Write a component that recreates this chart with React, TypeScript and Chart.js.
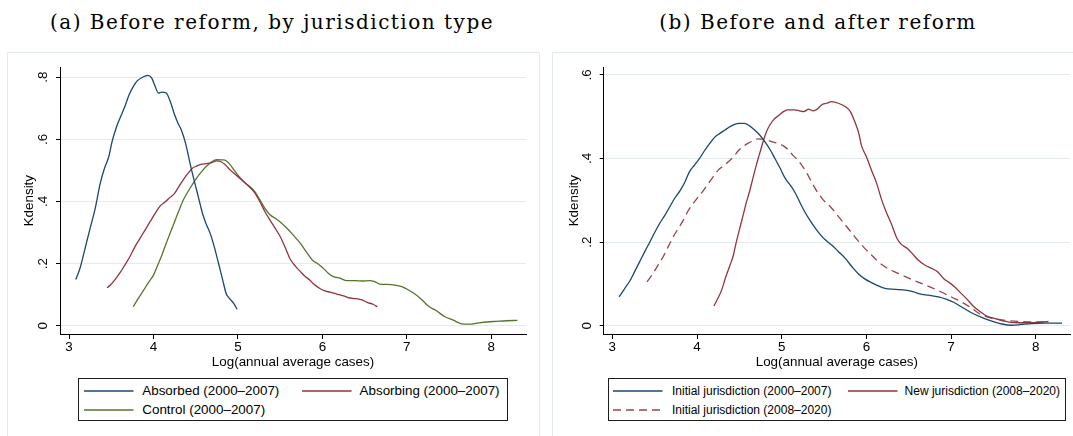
import React, { useEffect, useRef } from "react";
import { Chart, registerables } from "chart.js";

Chart.register(...registerables);

// ---------- data ----------
const xTickValues = [3, 4, 5, 6, 7, 8];
const yTickValuesA = [0, 0.2, 0.4, 0.6, 0.8];
const yTickValuesB = [0, 0.2, 0.4, 0.6];

// Panel (a): before reform, by jurisdiction type
const absorbedX = [3.08, 3.13, 3.19, 3.25, 3.31, 3.37, 3.42, 3.47, 3.51, 3.57, 3.62, 3.66, 3.71, 3.76, 3.81, 3.87, 3.93, 3.98, 4.02, 4.06, 4.10, 4.15, 4.20, 4.25, 4.29, 4.33, 4.38, 4.42, 4.46, 4.50, 4.54, 4.58, 4.62, 4.67, 4.72, 4.77, 4.82, 4.86, 4.89, 4.95, 4.99];
const absorbedY = [0.149, 0.185, 0.249, 0.314, 0.378, 0.459, 0.507, 0.544, 0.593, 0.646, 0.679, 0.705, 0.743, 0.770, 0.789, 0.800, 0.806, 0.797, 0.770, 0.749, 0.752, 0.749, 0.721, 0.679, 0.652, 0.630, 0.587, 0.539, 0.491, 0.448, 0.405, 0.362, 0.330, 0.298, 0.254, 0.201, 0.147, 0.104, 0.091, 0.072, 0.053];

const absorbingX = [3.45, 3.49, 3.54, 3.60, 3.66, 3.72, 3.78, 3.84, 3.90, 3.96, 4.02, 4.08, 4.14, 4.20, 4.25, 4.30, 4.35, 4.41, 4.46, 4.51, 4.57, 4.63, 4.69, 4.75, 4.80, 4.85, 4.91, 4.96, 5.02, 5.08, 5.14, 5.20, 5.26, 5.32, 5.38, 5.44, 5.50, 5.56, 5.62, 5.68, 5.74, 5.79, 5.85, 5.91, 5.97, 6.03, 6.09, 6.17, 6.25, 6.31, 6.39, 6.47, 6.53, 6.60, 6.65];
const absorbingY = [0.122, 0.131, 0.147, 0.169, 0.195, 0.222, 0.254, 0.281, 0.308, 0.335, 0.362, 0.386, 0.399, 0.414, 0.426, 0.448, 0.469, 0.491, 0.507, 0.514, 0.520, 0.522, 0.525, 0.531, 0.528, 0.518, 0.501, 0.489, 0.475, 0.461, 0.446, 0.428, 0.399, 0.367, 0.340, 0.314, 0.287, 0.252, 0.214, 0.192, 0.174, 0.160, 0.147, 0.131, 0.120, 0.112, 0.108, 0.102, 0.096, 0.090, 0.087, 0.083, 0.075, 0.069, 0.061];

const controlX = [3.76, 3.82, 3.88, 3.94, 4.00, 4.05, 4.10, 4.15, 4.20, 4.25, 4.30, 4.35, 4.40, 4.45, 4.51, 4.57, 4.63, 4.69, 4.75, 4.81, 4.86, 4.91, 4.96, 5.02, 5.08, 5.14, 5.20, 5.26, 5.32, 5.38, 5.44, 5.50, 5.58, 5.66, 5.74, 5.81, 5.89, 5.95, 6.01, 6.07, 6.13, 6.21, 6.29, 6.39, 6.48, 6.56, 6.62, 6.68, 6.76, 6.86, 6.94, 7.02, 7.10, 7.18, 7.25, 7.35, 7.45, 7.55, 7.65, 7.75, 7.83, 7.95, 8.06, 8.18, 8.31];
const controlY = [0.061, 0.088, 0.113, 0.139, 0.163, 0.195, 0.228, 0.265, 0.300, 0.335, 0.370, 0.403, 0.428, 0.450, 0.475, 0.496, 0.514, 0.528, 0.535, 0.534, 0.531, 0.518, 0.499, 0.478, 0.461, 0.448, 0.432, 0.405, 0.378, 0.357, 0.346, 0.334, 0.314, 0.290, 0.265, 0.238, 0.209, 0.199, 0.185, 0.169, 0.158, 0.153, 0.145, 0.145, 0.144, 0.145, 0.142, 0.134, 0.133, 0.131, 0.126, 0.115, 0.101, 0.083, 0.064, 0.048, 0.029, 0.018, 0.006, 0.005, 0.008, 0.012, 0.014, 0.016, 0.017];

// Panel (b): before and after reform
const initialEarlyX = [3.08, 3.14, 3.21, 3.26, 3.32, 3.38, 3.44, 3.50, 3.56, 3.62, 3.68, 3.74, 3.80, 3.86, 3.91, 3.97, 4.03, 4.09, 4.15, 4.21, 4.27, 4.33, 4.39, 4.45, 4.50, 4.56, 4.62, 4.68, 4.74, 4.80, 4.86, 4.92, 4.98, 5.04, 5.09, 5.15, 5.21, 5.27, 5.33, 5.39, 5.45, 5.51, 5.59, 5.67, 5.75, 5.83, 5.91, 5.98, 6.06, 6.14, 6.22, 6.34, 6.46, 6.56, 6.63, 6.73, 6.85, 6.95, 7.03, 7.13, 7.24, 7.36, 7.48, 7.60, 7.72, 7.83, 7.95, 8.11, 8.31];
const initialEarlyY = [0.069, 0.087, 0.108, 0.128, 0.152, 0.176, 0.199, 0.223, 0.245, 0.264, 0.285, 0.306, 0.323, 0.345, 0.368, 0.384, 0.400, 0.419, 0.436, 0.451, 0.460, 0.468, 0.476, 0.482, 0.484, 0.484, 0.478, 0.468, 0.456, 0.440, 0.422, 0.400, 0.377, 0.353, 0.339, 0.321, 0.297, 0.273, 0.253, 0.235, 0.219, 0.206, 0.193, 0.177, 0.161, 0.141, 0.123, 0.112, 0.103, 0.095, 0.089, 0.087, 0.085, 0.081, 0.076, 0.073, 0.069, 0.063, 0.056, 0.044, 0.031, 0.020, 0.011, 0.004, 0.001, 0.003, 0.005, 0.006, 0.006];

const newLateX = [4.20, 4.24, 4.29, 4.34, 4.39, 4.43, 4.46, 4.50, 4.54, 4.58, 4.62, 4.66, 4.70, 4.74, 4.78, 4.82, 4.86, 4.91, 4.96, 5.02, 5.07, 5.15, 5.21, 5.26, 5.32, 5.37, 5.42, 5.47, 5.53, 5.59, 5.67, 5.75, 5.81, 5.87, 5.91, 5.94, 6.00, 6.06, 6.12, 6.18, 6.24, 6.30, 6.36, 6.41, 6.48, 6.54, 6.61, 6.69, 6.77, 6.84, 6.91, 6.98, 7.04, 7.11, 7.19, 7.26, 7.34, 7.42, 7.50, 7.60, 7.70, 7.80, 7.91, 8.03, 8.15];
const newLateY = [0.047, 0.063, 0.085, 0.117, 0.145, 0.169, 0.197, 0.229, 0.261, 0.293, 0.321, 0.353, 0.384, 0.412, 0.440, 0.464, 0.480, 0.494, 0.502, 0.512, 0.516, 0.516, 0.514, 0.512, 0.518, 0.514, 0.518, 0.528, 0.532, 0.536, 0.532, 0.524, 0.512, 0.484, 0.460, 0.432, 0.404, 0.372, 0.341, 0.301, 0.269, 0.241, 0.209, 0.195, 0.185, 0.173, 0.157, 0.145, 0.137, 0.129, 0.113, 0.103, 0.093, 0.079, 0.063, 0.047, 0.034, 0.023, 0.018, 0.012, 0.008, 0.007, 0.007, 0.008, 0.010];

const initialLateX = [3.41, 3.48, 3.54, 3.60, 3.66, 3.72, 3.78, 3.84, 3.89, 3.95, 4.01, 4.07, 4.13, 4.19, 4.25, 4.31, 4.37, 4.43, 4.49, 4.54, 4.60, 4.66, 4.72, 4.78, 4.84, 4.90, 4.96, 5.02, 5.08, 5.13, 5.19, 5.25, 5.31, 5.37, 5.43, 5.49, 5.59, 5.67, 5.75, 5.83, 5.91, 5.98, 6.06, 6.14, 6.22, 6.30, 6.42, 6.53, 6.65, 6.77, 6.89, 7.01, 7.13, 7.24, 7.34, 7.44, 7.56, 7.68, 7.80, 7.91, 8.03, 8.15];
const initialLateY = [0.105, 0.125, 0.145, 0.165, 0.189, 0.213, 0.233, 0.253, 0.273, 0.291, 0.307, 0.322, 0.339, 0.356, 0.372, 0.382, 0.392, 0.404, 0.419, 0.428, 0.436, 0.442, 0.447, 0.446, 0.443, 0.439, 0.436, 0.430, 0.420, 0.408, 0.396, 0.380, 0.360, 0.337, 0.317, 0.301, 0.281, 0.261, 0.241, 0.221, 0.201, 0.185, 0.169, 0.153, 0.141, 0.132, 0.121, 0.111, 0.101, 0.091, 0.080, 0.068, 0.056, 0.042, 0.028, 0.020, 0.015, 0.012, 0.010, 0.009, 0.009, 0.010];

const titleA = "(a) Before reform, by jurisdiction type";
const titleB = "(b) Before and after reform";
const xTitle = "Log(annual average cases)";
const yTitle = "Kdensity";

// ---------- styles ----------
const SANS = "'Liberation Sans', Arial, Helvetica, sans-serif";
const SERIF = "'DejaVu Serif', serif";
const NAVY = "#1a476f";
const MAROON = "#90353b";
const GREEN = "#55752f";
const DASHRED = "#99434a";
const GRID = "#e3ebee";
const FRAME = "#e2eaed";
const DASH = [8, 5];

type Series = { label: string; xs: number[]; ys: number[]; color: string; dash?: number[] };

const seriesA: Series[] = [
  { label: "Absorbed (2000–2007)", xs: absorbedX, ys: absorbedY, color: NAVY },
  { label: "Absorbing (2000–2007)", xs: absorbingX, ys: absorbingY, color: MAROON },
  { label: "Control (2000–2007)", xs: controlX, ys: controlY, color: GREEN },
];
const seriesB: Series[] = [
  { label: "Initial jurisdiction (2000–2007)", xs: initialEarlyX, ys: initialEarlyY, color: NAVY },
  { label: "New jurisdiction (2008–2020)", xs: newLateX, ys: newLateY, color: MAROON },
  { label: "Initial jurisdiction (2008–2020)", xs: initialLateX, ys: initialLateY, color: DASHRED, dash: DASH },
];

function fmtY(v: number): string {
  if (Math.abs(v) < 1e-9) return "0";
  return String(+v.toFixed(1)).replace(/^0/, "");
}

type PanelOpts = {
  xMin: number; xMax: number; yMin: number; yMax: number;
  yTicks: number[];
  padTop: number; padRight: number; padBottom: number;
  yAxisWidth: number; xAxisHeight: number; yTitlePad: number;
};

function makeConfig(series: Series[], o: PanelOpts): any {
  const tickFont = { family: SANS, size: 13.4 };
  return {
    type: "scatter",
    data: {
      datasets: series.map((s) => ({
        label: s.label,
        data: s.xs.map((x, i) => ({ x, y: s.ys[i] })),
        showLine: true,
        borderColor: s.color,
        backgroundColor: s.color,
        borderWidth: 1.3,
        borderDash: s.dash || [],
        pointRadius: 0,
        pointHoverRadius: 0,
        cubicInterpolationMode: "monotone",
        fill: false,
      })),
    },
    options: {
      responsive: false,
      animation: false,
      devicePixelRatio: 1,
      events: [],
      layout: { padding: { left: 0, top: o.padTop, right: o.padRight, bottom: o.padBottom } },
      plugins: { legend: { display: false }, tooltip: { enabled: false }, title: { display: false } },
      scales: {
        x: {
          type: "linear",
          position: "bottom",
          min: o.xMin,
          max: o.xMax,
          afterBuildTicks: (s: any) => { s.ticks = xTickValues.map((v) => ({ value: v })); },
          afterFit: (s: any) => { s.height = o.xAxisHeight; },
          ticks: { color: "#000", font: tickFont, padding: 0, maxRotation: 0, autoSkip: false, callback: (v: any) => String(v) },
          grid: { drawOnChartArea: false, drawTicks: true, tickLength: 5, tickColor: "#000", tickWidth: 1 },
          border: { display: true, color: "#000", width: 1 },
          title: { display: true, text: xTitle, color: "#000", font: tickFont, padding: { top: 0, bottom: 0 } },
        },
        y: {
          type: "linear",
          position: "left",
          min: o.yMin,
          max: o.yMax,
          afterBuildTicks: (s: any) => { s.ticks = o.yTicks.map((v) => ({ value: v })); },
          afterFit: (s: any) => { s.width = o.yAxisWidth; },
          ticks: { color: "#000", font: tickFont, padding: 7, minRotation: 90, maxRotation: 90, crossAlign: "center", autoSkip: false, callback: (v: any) => fmtY(Number(v)) },
          grid: { color: GRID, lineWidth: 1, drawTicks: true, tickLength: 4, tickColor: "#000", tickWidth: 1 },
          border: { display: true, color: "#000", width: 1 },
          title: { display: true, text: yTitle, color: "#000", font: tickFont, padding: { top: o.yTitlePad, bottom: 0 } },
        },
      },
    },
  };
}

function ChartCanvas({ series, opts, left, top, width, height }: { series: Series[]; opts: PanelOpts; left: number; top: number; width: number; height: number }) {
  const ref = useRef<HTMLCanvasElement>(null);
  useEffect(() => {
    const chart = new Chart(ref.current as HTMLCanvasElement, makeConfig(series, opts));
    return () => chart.destroy();
  }, []);
  return (
    <canvas
      ref={ref}
      width={width}
      height={height}
      style={{ position: "absolute", left, top, width, height }}
    />
  );
}

type LegendEntry = { label: string; color: string; dash?: number[]; lineX: number; textX: number; rowY: number };

function LegendLayer({ box, entries, fontSize }: { box: { left: number; top: number; width: number; height: number }; entries: LegendEntry[]; fontSize: number }) {
  return (
    <>
      <div
        style={{
          position: "absolute", left: box.left, top: box.top, width: box.width, height: box.height,
          border: "1px solid #1c1c1c", boxSizing: "border-box", background: "#fff",
        }}
      />
      {entries.map((e, i) => (
        <React.Fragment key={i}>
          <svg style={{ position: "absolute", left: e.lineX, top: e.rowY - 3 }} width={50} height={6}>
            <line x1={0} y1={3} x2={49.5} y2={3} stroke={e.color} strokeWidth={1.3} strokeDasharray={e.dash ? e.dash.join(" ") : undefined} />
          </svg>
          <div
            style={{
              position: "absolute", left: e.textX, top: e.rowY - 8, height: 16, lineHeight: "16px",
              fontFamily: SANS, fontSize, color: "#000", whiteSpace: "nowrap",
            }}
          >
            {e.label}
          </div>
        </React.Fragment>
      ))}
    </>
  );
}

const optsA: PanelOpts = {
  xMin: 2.893, xMax: 8.411, yMin: -0.0267, yMax: 0.832, yTicks: yTickValuesA,
  padTop: 27.3, padRight: 14, padBottom: 65.3, yAxisWidth: 60, xAxisHeight: 36.7, yTitlePad: 21.3,
};
const optsB: PanelOpts = {
  xMin: 2.898, xMax: 8.404, yMin: -0.0199, yMax: 0.618, yTicks: yTickValuesB,
  padTop: 27.3, padRight: 3, padBottom: 65.3, yAxisWidth: 59.7, xAxisHeight: 36.7, yTitlePad: 22,
};

const titleStyle: React.CSSProperties = {
  position: "absolute", top: 12.4, height: 20, lineHeight: "20px", textAlign: "center",
  fontFamily: SERIF, fontSize: 20, letterSpacing: "1.5px", color: "#000", whiteSpace: "nowrap",
};

export default function App() {
  return (
    <div style={{ position: "absolute", left: 0, top: 0, width: 1073, height: 436, overflow: "hidden", background: "#fff" }}>
      <div style={{ ...titleStyle, left: 0, width: 544 }}>{titleA}</div>
      <div style={{ ...titleStyle, left: 562, width: 512 }}>{titleB}</div>

      <div style={{ position: "absolute", left: 7, top: 52, width: 533, height: 420, border: `1px solid ${FRAME}`, boxSizing: "border-box" }} />
      <div style={{ position: "absolute", left: 552, top: 52, width: 600, height: 420, border: `1px solid ${FRAME}`, boxSizing: "border-box" }} />

      <ChartCanvas series={seriesA} opts={optsA} left={0} top={40} width={540} height={396} />
      <ChartCanvas series={seriesB} opts={optsB} left={544} top={40} width={529} height={396} />

      <LegendLayer
        fontSize={13.4}
        box={{ left: 78, top: 378, width: 430, height: 43 }}
        entries={[
          { label: seriesA[0].label, color: NAVY, lineX: 84, textX: 142.3, rowY: 390.7 },
          { label: seriesA[1].label, color: MAROON, lineX: 301.8, textX: 359.6, rowY: 390.7 },
          { label: seriesA[2].label, color: GREEN, lineX: 84, textX: 142.3, rowY: 410 },
        ]}
      />
      <LegendLayer
        fontSize={12}
        box={{ left: 608, top: 378, width: 458, height: 43 }}
        entries={[
          { label: seriesB[0].label, color: NAVY, lineX: 613.3, textX: 672, rowY: 390.7 },
          { label: seriesB[1].label, color: MAROON, lineX: 847.5, textX: 904.6, rowY: 390.7 },
          { label: seriesB[2].label, color: DASHRED, dash: DASH, lineX: 613.3, textX: 672, rowY: 410 },
        ]}
      />
    </div>
  );
}
